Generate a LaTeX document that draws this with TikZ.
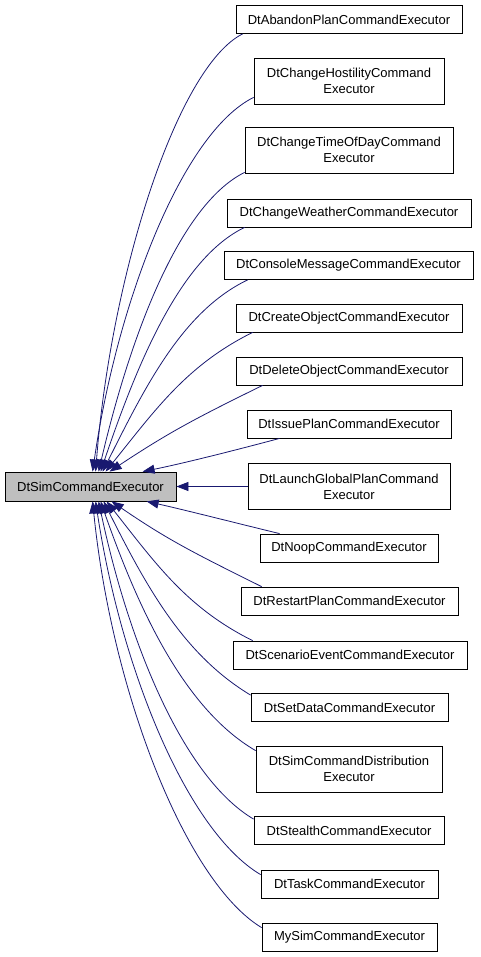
\documentclass[tikz,border=0pt]{standalone}
\usepackage{fontspec}
\setmainfont{Liberation Sans}
\usetikzlibrary{arrows.meta,calc}
\definecolor{edgeblue}{HTML}{191970}
\definecolor{basefill}{HTML}{BFBFBF}
\newcommand\dfont{\fontsize{13}{16}\selectfont}
\tikzset{
  cls/.style={draw=black, line width=0.8pt, fill=white, inner sep=0pt, font=\dfont, align=center, minimum height=28pt},
  twoline/.style={cls, minimum height=46pt},
  basecls/.style={cls, fill=basefill, minimum height=29pt},
  inh/.style={draw=edgeblue, line width=0.8pt, -{Triangle[length=12pt,width=9pt]}}
}
\begin{document}
\begin{tikzpicture}[x=1pt,y=-1pt]
\useasboundingbox (0,0) rectangle (480,957);
% base class
\node[basecls, minimum width=171pt] (main) at (90.5,486.5) {DtSimCommandExecutor};
% derived classes
\node[cls, minimum width=226pt] (abandon) at (349,19.5) {DtAbandonPlanCommandExecutor};
\node[twoline, minimum width=190pt] (hostility) at (349,81) {DtChangeHostilityCommand\\Executor};
\node[twoline, minimum width=208pt] (timeofday) at (349,150) {DtChangeTimeOfDayCommand\\Executor};
\node[cls, minimum width=244pt] (weather) at (349,213) {DtChangeWeatherCommandExecutor};
\node[cls, minimum width=249pt] (console) at (348.5,265.5) {DtConsoleMessageCommandExecutor};
\node[cls, minimum width=226pt] (create) at (349,318) {DtCreateObjectCommandExecutor};
\node[cls, minimum width=226pt] (delete) at (349,371) {DtDeleteObjectCommandExecutor};
\node[cls, minimum width=204pt] (issue) at (349,424) {DtIssuePlanCommandExecutor};
\node[twoline, minimum width=202pt] (launch) at (349,486.5) {DtLaunchGlobalPlanCommand\\Executor};
\node[cls, minimum width=178pt] (noop) at (349,548) {DtNoopCommandExecutor};
\node[cls, minimum width=217pt] (restart) at (349.5,601) {DtRestartPlanCommandExecutor};
\node[cls, minimum width=234pt] (scenario) at (350,655) {DtScenarioEventCommandExecutor};
\node[cls, minimum width=197pt] (setdata) at (349.5,707.5) {DtSetDataCommandExecutor};
\node[twoline, minimum width=186pt] (simdist) at (349,769) {DtSimCommandDistribution\\Executor};
\node[cls, minimum width=190pt] (stealth) at (349,830.5) {DtStealthCommandExecutor};
\node[cls, minimum width=177pt] (task) at (349.5,884) {DtTaskCommandExecutor};
\node[cls, minimum width=175pt] (mysim) at (349.5,937) {MySimCommandExecutor};
% inheritance edges (top side)
\draw[inh] ($(abandon.south west)+(7,0)$) .. controls (177,67) and (111,275) .. ($(main.north west)+(91,0)$);
\draw[inh] ($(hostility.south west)+(0,-7)$) .. controls (182,133) and (117,303) .. ($(main.north west)+(88,0)$);
\draw[inh] ($(timeofday.south west)+(0,-1)$) .. controls (179,205) and (130,337) .. ($(main.north west)+(94,0)$);
\draw[inh] ($(weather.south west)+(18,0)$) .. controls (181,258) and (138,361) .. ($(main.north west)+(96,0)$);
\draw[inh] ($(console.south west)+(24,0)$) .. controls (183,311) and (146,385) .. ($(main.north west)+(98,0)$);
\draw[inh] ($(create.south west)+(17,0)$) .. controls (187,365) and (156,409) .. ($(main.north west)+(101,0)$);
\draw[inh] ($(delete.south west)+(27,0)$) .. controls (194,419) and (168,433) .. ($(main.north west)+(105,0)$);
\draw[inh] ($(issue.south west)+(33,0)$) .. controls (240,449) and (185,463) .. ($(main.north west)+(138,0)$);
% right side
\draw[inh] (launch.west) -- (main.east);
% bottom side
\draw[inh] ($(noop.north west)+(20,0)$) .. controls (240,524) and (185,510) .. ($(main.south west)+(142,0)$);
\draw[inh] ($(restart.north west)+(21,0)$) .. controls (194,553) and (168,540) .. ($(main.south west)+(107,0)$);
\draw[inh] ($(scenario.north west)+(20,0)$) .. controls (187,608) and (156,564) .. ($(main.south west)+(102,0)$);
\draw[inh] ($(setdata.north west)+(0,2)$) .. controls (184,655) and (147,588) .. ($(main.south west)+(99,0)$);
\draw[inh] ($(simdist.north west)+(0,5)$) .. controls (186,710) and (140,614) .. ($(main.south west)+(96,0)$);
\draw[inh] ($(stealth.north west)+(0,3)$) .. controls (184,778) and (129,645) .. ($(main.south west)+(94,0)$);
\draw[inh] ($(task.north west)+(0,5)$) .. controls (187,831) and (121,669) .. ($(main.south west)+(91,0)$);
\draw[inh] ($(mysim.north west)+(0,5)$) .. controls (186,882) and (112,693) .. ($(main.south west)+(88,0)$);
\end{tikzpicture}
\end{document}
